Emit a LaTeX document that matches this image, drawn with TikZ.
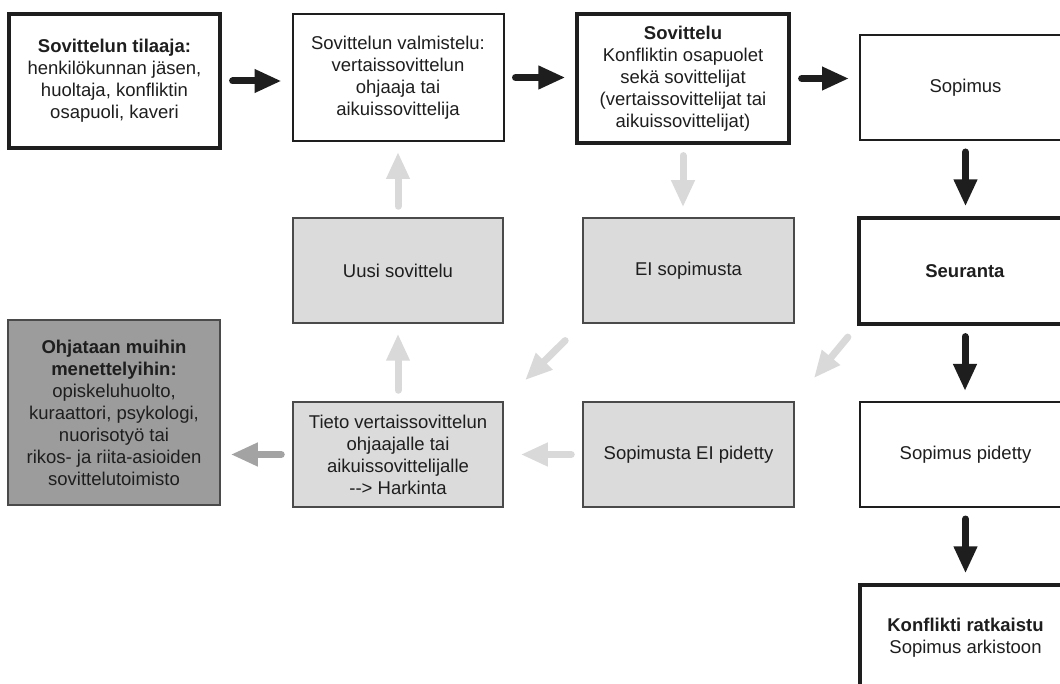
\documentclass[tikz,border=0pt]{standalone}
\usepackage{fontspec}
\setmainfont{Liberation Sans}
\usepackage{tikz}
\usetikzlibrary{arrows.meta}
\definecolor{inkblack}{HTML}{1E1E1E}
\definecolor{lightbox}{HTML}{DBDBDB}
\definecolor{darkbox}{HTML}{9C9C9C}
\definecolor{boxline}{HTML}{4A4A4A}
\definecolor{lightarrow}{HTML}{D9D9D9}
\definecolor{midarrow}{HTML}{A3A3A3}

\begin{document}
\begin{tikzpicture}[x=1pt, y=-1pt, font=\fontsize{18.5}{22}\selectfont, text=inkblack,
  box/.style={draw=inkblack, line width=2pt, fill=white, align=center, inner sep=0pt,
    minimum width=211pt, minimum height=105pt},
  boldbox/.style={box, line width=3.2pt},
  greybox/.style={box, fill=lightbox, draw=boxline, line width=1.5pt},
  flow/.style={line width=7pt, line cap=round, -{Triangle[length=27pt, width=22pt]},
    shorten <=11pt, shorten >=10pt},
  darkflow/.style={flow, draw=inkblack},
  paleflow/.style={flow, draw=lightarrow}]
  \useasboundingbox[fill=white] (0,0) rectangle (1060,684);

  % ylin rivi
  \node[boldbox, minimum height=134pt] (tilaaja) at (114.5,81)
    {\textbf{Sovittelun tilaaja:}\\ henkilökunnan jäsen,\\ huoltaja, konfliktin\\ osapuoli, kaveri};
  \node[box, minimum height=127pt] (valmistelu) at (398,77.5)
    {Sovittelun valmistelu:\\ vertaissovittelun\\ ohjaaja tai\\ aikuissovittelija};
  \node[boldbox, minimum width=212pt, minimum height=129pt] (sovittelu) at (683,78.5)
    {\textbf{Sovittelu}\\ Konfliktin osapuolet\\ sekä sovittelijat\\ (vertaissovittelijat tai\\ aikuissovittelijat)};
  \node[box] (sopimus) at (965.5,87.5) {Sopimus};

  % keskirivi
  \node[greybox, minimum width=210pt] (uusi) at (398,270.5) {Uusi sovittelu};
  \node[greybox] (eisop) at (688.5,270.5) {EI sopimusta};
  \node[boldbox, minimum width=212pt, minimum height=106pt] (seuranta) at (965,271) {\textbf{Seuranta}};

  % alarivi
  \node[greybox, fill=darkbox, minimum width=212pt, minimum height=185pt] (muihin) at (114,412.5)
    {\textbf{Ohjataan muihin}\\ \textbf{menettelyihin:}\\ opiskeluhuolto,\\ kuraattori, psykologi,\\ nuorisotyö tai\\ rikos- ja riita-asioiden\\ sovittelutoimisto};
  \node[greybox, minimum width=210pt] (tieto) at (398,454.5)
    {Tieto vertaissovittelun\\ ohjaajalle tai\\ aikuissovittelijalle\\ -{}-> Harkinta};
  \node[greybox] (eipidetty) at (688.5,454.5) {Sopimusta EI pidetty};
  \node[box] (pidetty) at (965.5,454.5) {Sopimus pidetty};
  \node[boldbox, minimum height=106pt] (ratkaistu) at (965.5,638)
    {\textbf{Konflikti ratkaistu}\\ Sopimus arkistoon};

  % nuolet
  \draw[darkflow] (tilaaja.east) -- (tilaaja.east -| valmistelu.west);
  \draw[darkflow] (valmistelu.east) -- (valmistelu.east -| sovittelu.west);
  \draw[darkflow] (sovittelu.east) -- (sovittelu.east -| sopimus.west);
  \draw[darkflow] (sopimus.south) -- (sopimus.south |- seuranta.north);
  \draw[darkflow] (seuranta.south) -- (seuranta.south |- pidetty.north);
  \draw[darkflow] (pidetty.south) -- (pidetty.south |- ratkaistu.north);

  \draw[paleflow] (sovittelu.south) -- (sovittelu.south |- eisop.north);
  \draw[paleflow] (uusi.north) -- (valmistelu.south);
  \draw[paleflow] (tieto.north) -- (uusi.south);
  \draw[paleflow, shorten <=24pt, shorten >=30pt] (eisop.south west) -- (tieto.north east);
  \draw[paleflow, shorten <=15pt, shorten >=30pt] (seuranta.south west) -- (eipidetty.north east);
  \draw[paleflow, shorten >=17pt] (eipidetty.west) -- (tieto.east);
  \draw[flow, draw=midarrow] (tieto.west) -- (tieto.west -| muihin.east);
\end{tikzpicture}
\end{document}
